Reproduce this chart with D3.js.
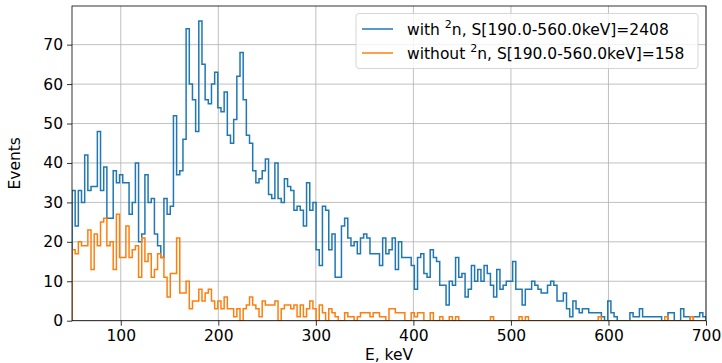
<!DOCTYPE html>
<html>
<head>
<meta charset="utf-8">
<script src="https://cdn.jsdelivr.net/npm/d3@7"></script>
<style>
  body { margin: 0; background: #fff; }
  svg text { font-family: "DejaVu Sans", sans-serif; fill: #000; }
</style>
</head>
<body>
<div id="chart"></div>
<script>
// ------------------------------------------------------------
// dati: istogramma 50-700 keV, 200 bin da 3.25 keV
// ------------------------------------------------------------
const BIN_START = 50;
const BIN_WIDTH = 3.25;

// con 2n (blu)
const withN = [
  33, 24, 33, 30, 42, 33, 34, 34, 48, 33, 39, 26, 26, 38, 35, 37, 35, 35, 27, 30,
  40, 20, 22, 37, 30, 31, 22, 19, 16, 31, 27, 29, 52, 37, 38, 46, 74, 60, 56, 48,
  76, 65, 56, 55, 60, 63, 54, 53, 58, 47, 45, 51, 62, 68, 56, 47, 45, 38, 35, 36,
  38, 41, 32, 31, 40, 31, 30, 36, 34, 33, 28, 29, 28, 24, 35, 28, 30, 18, 14, 29,
  28, 18, 22, 11, 11, 24, 26, 21, 19, 20, 17, 21, 22, 21, 17, 17, 17, 14, 21, 17,
  18, 21, 13, 20, 16, 16, 16, 14, 8, 16, 17, 12, 11, 18, 16, 15, 9, 9, 4, 10,
  9, 16, 11, 12, 6, 8, 14, 10, 13, 10, 14, 12, 9, 6, 13, 8, 9, 10, 10, 15,
  8, 8, 4, 8, 8, 10, 9, 8, 7, 7, 9, 10, 9, 5, 5, 7, 3, 1, 5, 3,
  2, 3, 3, 2, 2, 2, 2, 1, 0, 5, 2, 1, 0, 0, 0, 0, 2, 1, 1, 3,
  1, 1, 1, 1, 1, 1, 0, 0, 2, 2, 0, 0, 3, 1, 1, 0, 1, 1, 2, 1
];

// senza 2n (arancio)
const withoutN = [
  18, 17, 20, 19, 19, 23, 13, 22, 19, 25, 26, 19, 20, 13, 27, 16, 16, 24, 16, 18,
  19, 11, 21, 15, 17, 11, 13, 17, 16, 11, 6, 12, 12, 21, 7, 7, 10, 3, 5, 5,
  8, 5, 7, 8, 5, 3, 5, 3, 6, 3, 3, 1, 3, 0, 3, 4, 6, 4, 3, 1,
  5, 4, 4, 4, 5, 0, 3, 4, 4, 3, 4, 1, 4, 1, 3, 5, 3, 0, 4, 2,
  0, 3, 2, 1, 0, 0, 2, 1, 1, 0, 1, 2, 2, 2, 1, 2, 2, 1, 1, 0,
  3, 3, 2, 2, 2, 0, 0, 2, 1, 2, 2, 0, 0, 2, 0, 0, 1, 0, 0, 1,
  0, 1, 0, 0, 0, 0, 0, 0, 0, 0, 0, 0, 1, 0, 0, 0, 0, 0, 0, 0,
  0, 1, 0, 1, 0, 0, 0, 0, 0, 0, 0, 0, 0, 0, 0, 0, 0, 0, 0, 0,
  0, 0, 0, 0, 0, 0, 1, 0, 0, 0, 0, 0, 0, 0, 0, 0, 0, 0, 0, 0,
  0, 0, 0, 0, 0, 0, 0, 1, 0, 0, 0, 0, 0, 0, 0, 1, 0, 0, 0, 0
];

const xTicks = [100, 200, 300, 400, 500, 600, 700];
const yTicks = [0, 10, 20, 30, 40, 50, 60, 70];
const seriesNames = ["with", "without"];
const seriesTail = ["n, S[190.0-560.0keV]=2408", "n, S[190.0-560.0keV]=158"];

// ------------------------------------------------------------
// layout
// ------------------------------------------------------------
const W = 722, H = 363;
const M = { left: 72, right: 16, top: 6, bottom: 42.3 };
const COLORS = ["#1f77b4", "#ff7f0e"];
const FS = 15.5;

const x = d3.scaleLinear().domain([50, 700]).range([M.left, W - M.right]);
const y = d3.scaleLinear().domain([0, 79.8]).range([H - M.bottom, M.top]);

const svg = d3.select("#chart").append("svg")
  .attr("width", W).attr("height", H);

// griglia
const grid = svg.append("g").attr("stroke", "#b0b0b0").attr("stroke-width", 0.8);
grid.selectAll(".gx").data(xTicks).enter().append("line")
  .attr("x1", d => x(d)).attr("x2", d => x(d))
  .attr("y1", y(0)).attr("y2", M.top);
grid.selectAll(".gy").data(yTicks).enter().append("line")
  .attr("x1", M.left).attr("x2", W - M.right)
  .attr("y1", d => y(d)).attr("y2", d => y(d));

// istogrammi a gradini
function stepPoints(vals) {
  const pts = [[BIN_START, 0]];
  vals.forEach((v, i) => {
    pts.push([BIN_START + i * BIN_WIDTH, v]);
    pts.push([BIN_START + (i + 1) * BIN_WIDTH, v]);
  });
  pts.push([BIN_START + vals.length * BIN_WIDTH, 0]);
  return pts;
}
const line = d3.line().x(d => x(d[0])).y(d => y(d[1]));

svg.append("clipPath").attr("id", "plot-clip")
  .append("rect").attr("x", M.left).attr("y", M.top)
  .attr("width", W - M.left - M.right).attr("height", H - M.top - M.bottom);

const plot = svg.append("g").attr("clip-path", "url(#plot-clip)");
[withN, withoutN].forEach((vals, k) => {
  plot.append("path")
    .attr("d", line(stepPoints(vals)))
    .attr("fill", "none")
    .attr("stroke", COLORS[k])
    .attr("stroke-width", 1.5)
    .attr("stroke-linejoin", "miter");
});

// assi
const xAxis = svg.append("g")
  .attr("transform", `translate(0,${y(0)})`)
  .call(d3.axisBottom(x).tickValues(xTicks).tickSize(5).tickPadding(4));
const yAxis = svg.append("g")
  .attr("transform", `translate(${M.left},0)`)
  .call(d3.axisLeft(y).tickValues(yTicks).tickSize(5).tickPadding(4));
[xAxis, yAxis].forEach(a => {
  a.selectAll("text").attr("font-size", FS).attr("font-family", "DejaVu Sans");
  a.selectAll("line").attr("stroke", "#000").attr("stroke-width", 0.8);
  a.select(".domain").remove();
});

// cornice
svg.append("rect")
  .attr("x", M.left).attr("y", M.top)
  .attr("width", W - M.left - M.right).attr("height", H - M.top - M.bottom)
  .attr("fill", "none").attr("stroke", "#000").attr("stroke-width", 0.8);

// etichette assi
svg.append("text")
  .attr("x", (M.left + W - M.right) / 2).attr("y", 360)
  .attr("text-anchor", "middle").attr("font-size", FS)
  .text("E, keV");
svg.append("text")
  .attr("transform", `translate(20,${(M.top + H - M.bottom) / 2}) rotate(-90)`)
  .attr("text-anchor", "middle").attr("font-size", FS)
  .text("Events");

// legenda
const lg = svg.append("g");
lg.append("rect")
  .attr("x", 356).attr("y", 13.5).attr("width", 342).attr("height", 55)
  .attr("rx", 3).attr("fill", "#fff").attr("fill-opacity", 0.8)
  .attr("stroke", "#cccccc").attr("stroke-width", 0.8);
seriesNames.forEach((name, k) => {
  const cy = 29 + k * 24;
  lg.append("line")
    .attr("x1", 362).attr("x2", 393).attr("y1", cy).attr("y2", cy)
    .attr("stroke", COLORS[k]).attr("stroke-width", 1.5);
  const t = lg.append("text")
    .attr("x", 407).attr("y", cy + 5.5).attr("font-size", FS);
  t.append("tspan").text(name + " ");
  t.append("tspan").attr("font-size", 11).attr("dy", -6.5).text("2");
  t.append("tspan").attr("dy", 6.5).text(seriesTail[k]);
});
</script>
</body>
</html>
